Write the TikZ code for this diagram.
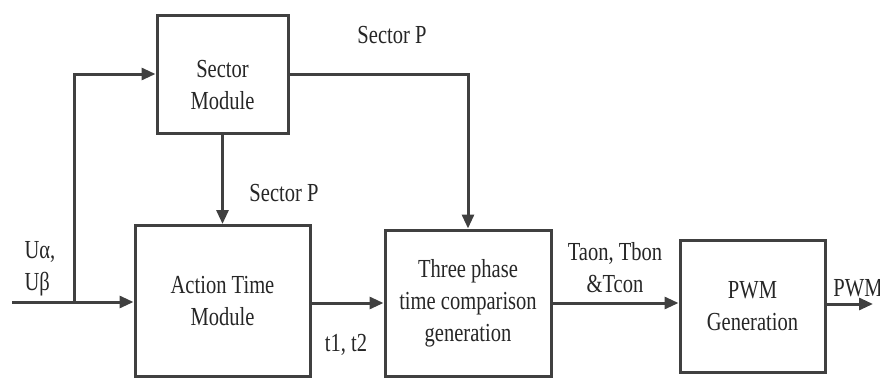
\documentclass[tikz,border=0pt]{standalone}
\usepackage{fontspec}
\setmainfont{Liberation Serif}[FakeStretch=0.79]
\usepackage{tikz}
\usetikzlibrary{arrows.meta}

\begin{document}
\begin{tikzpicture}[x=0.5pt,y=-0.5pt,
  line width=1.5pt,
  every node/.style={font=\fontsize{13}{16}\selectfont, text=black!85},
  block/.style={draw=black!75, rectangle, align=center, inner sep=0pt},
  flow/.style={draw=black!75, -{Triangle[length=7pt,width=6pt]}},
  tag/.style={align=center}]
\useasboundingbox (0,0) rectangle (880,380);

\node[block, minimum width=65.5pt, minimum height=59pt] (sec) at (222.5,74) {};
\node[tag] (sectxt) at (222.5,85) {Sector\\Module};
\node[block, minimum width=87.5pt, minimum height=75.5pt] (act) at (222.5,301) {Action Time\\Module};
\node[block, minimum width=83pt, minimum height=73pt] (three) at (468,303) {Three phase\\time comparison\\generation};
\node[block, minimum width=72.5pt, minimum height=66pt] (pwm) at (752.5,306) {PWM\\Generation};

\coordinate (in) at (12,302);
\coordinate (br) at (74,302);
\coordinate (out) at (873,304);

\draw[flow] (in) -- (act.west |- in);
\draw[flow] (br) |- (sec.west);
\draw[flow] (sec) -- (act);
\draw[flow] (sec.east) -| (three.north);
\draw[flow] (act.east |- three) -- (three.west);
\draw[flow] (three.east) -- (three.east -| pwm.west);
\draw[flow] (pwm.east |- out) -- (out);

\node[tag, align=left] (uab) at (40,269) {Uα,\\Uβ};
\node[tag] (secp1) at (392,35) {Sector P};
\node[tag] (secp2) at (284,193) {Sector P};
\node[tag] (tt) at (346,345) {t1, t2};
\node[tag] (tabc) at (615,268) {Taon, Tbon\\\&Tcon};
\node[tag] (pwmout) at (858,288) {PWM};
\end{tikzpicture}
\end{document}
